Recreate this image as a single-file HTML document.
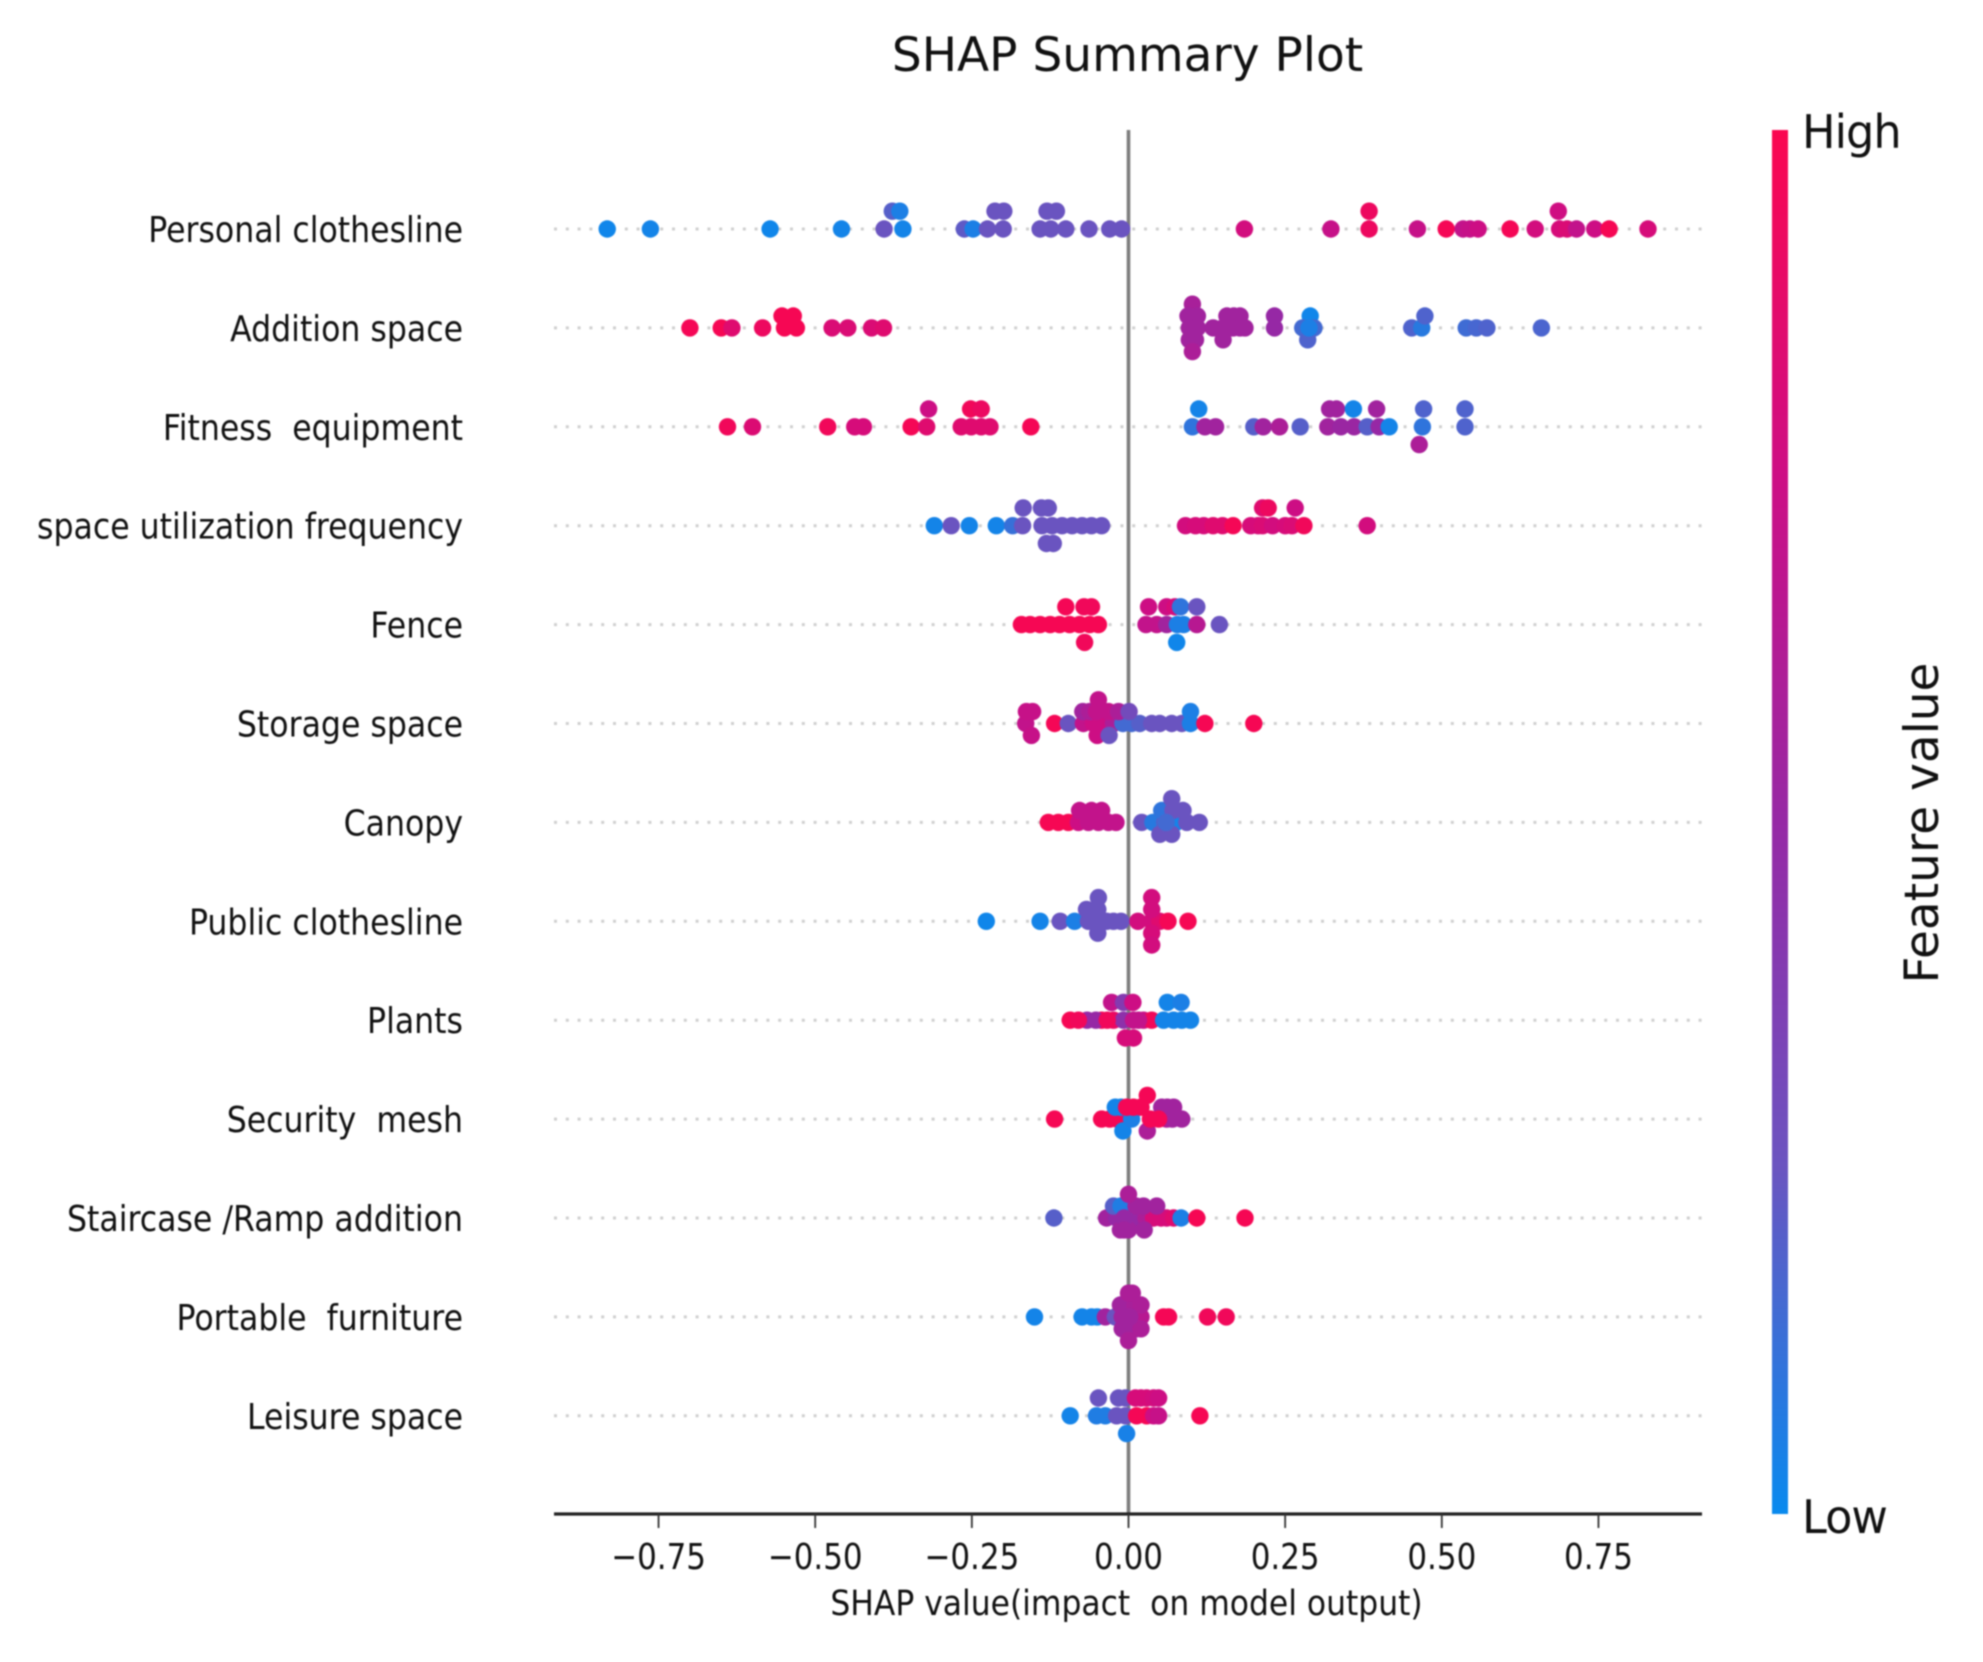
<!DOCTYPE html>
<html lang="en">
<head>
<meta charset="utf-8">
<title>SHAP Summary Plot</title>
<style>
html,body{margin:0;padding:0;background:#fff;}
svg{display:block;filter:blur(0.7px);}
text{font-family:"DejaVu Sans","Liberation Sans",sans-serif;fill:#111;white-space:pre;}
</style>
</head>
<body>
<svg id="chart" xmlns="http://www.w3.org/2000/svg" width="1983" height="1662" viewBox="0 0 1983 1662">
<defs>
<linearGradient id="cbar-gradient" x1="0" y1="1" x2="0" y2="0"></linearGradient>
</defs>
<rect x="0" y="0" width="1983" height="1662" fill="#ffffff"/>
<text x="1127.5" y="71" font-size="47" text-anchor="middle">SHAP Summary Plot</text>
<g id="grid-layer"></g>
<line x1="1128.5" x2="1128.5" y1="130" y2="1514" stroke="#7d7d7d" stroke-width="3.6"/>
<g id="dots-layer"></g>
<g id="labels-layer"></g>
<line x1="554" x2="1702" y1="1514" y2="1514" stroke="#222" stroke-width="3.2"/>
<g id="ticks-layer"></g>
<text transform="translate(1126.5,1615) scale(0.897,1)" font-size="35" text-anchor="middle">SHAP value(impact  on model output)</text>
<rect x="1772" y="130" width="16" height="1384" fill="url(#cbar-gradient)"/>
<text transform="translate(1802,148) scale(0.97,1)" font-size="46" style="letter-spacing:-1px">High</text>
<text transform="translate(1802,1533) scale(0.97,1)" font-size="46" style="letter-spacing:-1px">Low</text>
<text transform="translate(1938,823) rotate(-90)" font-size="47" text-anchor="middle">Feature value</text>
</svg>
<script>
// Each point: [SHAP value, swarm lane, normalised feature value]
const personalClothesline = [
[-0.832,0,.02],[-0.763,0,.03],[-0.572,0,.02],[-0.458,0,.03],[-0.39,0,.25],[-0.36,0,.03],[-0.262,0,.22],[-0.248,0,.05],[-0.225,0,.25],[-0.2,0,.25],[-0.141,0,.25],[-0.124,0,.25],[-0.1,0,.25],[-0.063,0,.25],[-0.03,0,.25],[-0.011,0,.25],
[-0.377,1,.2],[-0.365,1,.05],[-0.213,1,.25],[-0.199,1,.25],[-0.13,1,.25],[-0.115,1,.25],
[0.185,0,.78],[0.323,0,.72],[0.384,0,.93],[0.461,0,.72],[0.507,0,.97],[0.534,0,.7],[0.545,0,.72],[0.558,0,.75],[0.609,0,.97],[0.649,0,.78],[0.688,0,.8],[0.70,0,.82],[0.715,0,.7],[0.744,0,.75],[0.767,0,.98],[0.829,0,.8],
[0.384,1,.93],[0.686,1,.76]];
const additionSpace = [
[-0.70,0,.97],[-0.65,0,.98],[-0.633,0,.85],[-0.584,0,.93],[-0.553,1,.98],[-0.535,1,.98],[-0.549,0,.98],[-0.53,0,.98],[-0.473,0,.82],[-0.448,0,.82],[-0.41,0,.82],[-0.391,0,.85],
[0.102,2,.58],[0.095,1,.55],[0.11,1,.55],[0.097,0,.55],[0.11,0,.55],[0.097,-1,.55],[0.107,-1,.55],[0.102,-2,.6],[0.135,0,.55],[0.151,0,.55],[0.151,-1,.55],[0.157,1,.55],[0.168,1,.55],[0.178,1,.55],[0.167,0,.55],[0.178,0,.55],[0.186,0,.55],[0.233,1,.5],[0.233,0,.5],
[0.29,1,.02],[0.278,0,.15],[0.296,0,.15],[0.286,-1,.18],[0.288,0,.05],
[0.452,0,.18],[0.468,0,.08],[0.473,1,.18],[0.539,0,.14],[0.555,0,.16],[0.572,0,.18],[0.659,0,.17]];
const fitnessEquipment = [
[-0.64,0,.95],[-0.60,0,.83],[-0.48,0,.95],[-0.437,0,.8],[-0.423,0,.8],[-0.347,0,.97],[-0.322,0,.85],[-0.267,0,.85],[-0.251,0,.85],[-0.235,0,.85],[-0.221,0,.85],[-0.319,1,.75],[-0.252,1,.95],[-0.235,1,.92],[-0.156,0,.97],
[0.112,1,.03],[0.321,1,.55],[0.332,1,.55],[0.359,1,.03],[0.396,1,.55],[0.471,1,.18],[0.537,1,.18],
[0.102,0,.1],[0.122,0,.55],[0.139,0,.55],[0.2,0,.2],[0.215,0,.55],[0.241,0,.6],[0.274,0,.2],[0.318,0,.55],[0.339,0,.52],[0.36,0,.52],[0.381,0,.2],[0.40,0,.5],[0.416,0,.03],[0.469,0,.1],[0.537,0,.18],[0.464,-1,.6]];
const spaceUtilization = [
[-0.31,0,.03],[-0.283,0,.25],[-0.254,0,.03],[-0.211,0,.03],[-0.185,0,.12],[-0.169,0,.25],[-0.138,0,.25],[-0.122,0,.25],[-0.106,0,.25],[-0.09,0,.25],[-0.074,0,.25],[-0.059,0,.25],[-0.043,0,.25],
[-0.168,1,.25],[-0.139,1,.25],[-0.128,1,.25],[-0.131,-1,.25],[-0.12,-1,.25],
[0.091,0,.78],[0.107,0,.8],[0.12,0,.8],[0.135,0,.85],[0.15,0,.85],[0.167,0,.97],[0.195,0,.8],[0.207,0,.8],[0.214,0,.82],[0.23,0,.78],[0.25,0,.8],[0.261,0,.82],[0.28,0,.95],[0.381,0,.78],
[0.214,1,.85],[0.223,1,.93],[0.266,1,.75]];
const fence = [
[-0.10,1,.97],[-0.071,1,.95],[-0.059,1,.95],[0.032,1,.75],[0.061,1,.75],[0.074,1,.8],[0.083,1,.1],[0.109,1,.25],
[-0.171,0,.98],[-0.157,0,.98],[-0.141,0,.98],[-0.125,0,.98],[-0.11,0,.98],[-0.094,0,.98],[-0.078,0,.98],[-0.062,0,.98],[-0.048,0,.98],
[0.028,0,.7],[0.045,0,.7],[0.061,0,.55],[0.078,0,.05],[0.088,0,.05],[0.109,0,.65],[0.145,0,.25],[-0.07,-1,.95],[0.077,-1,.02]];
const storageSpace = [
[-0.164,0,.7],[-0.118,0,.97],[-0.096,0,.25],[-0.072,0,.7],[-0.056,0,.75],[-0.04,0,.75],[-0.024,0,.6],[-0.009,0,.15],[0.005,0,.15],[0.018,0,.2],[0.037,0,.25],[0.05,0,.25],[0.069,0,.25],[0.085,0,.25],[0.099,0,.05],[0.122,0,.98],[0.20,0,.98],
[-0.153,1,.72],[-0.163,1,.72],[-0.073,1,.55],[-0.062,1,.6],[-0.051,1,.7],[-0.032,1,.7],[-0.016,1,.6],[0.001,1,.3],[0.099,1,.05],
[-0.048,2,.7],[-0.155,-1,.72],[-0.05,-1,.75],[-0.031,-1,.25]];
const canopy = [
[-0.128,0,.98],[-0.112,0,.98],[-0.096,0,.98],[-0.08,0,.75],[-0.064,0,.7],[-0.048,0,.7],[-0.032,0,.7],[-0.02,0,.7],[0.021,0,.25],[0.039,0,.08],[0.058,0,.2],[0.076,0,.03],[0.093,0,.25],[0.113,0,.25],
[-0.078,1,.7],[-0.059,1,.7],[-0.043,1,.7],[0.053,1,.1],[0.071,1,.25],[0.087,1,.25],[0.069,2,.25],[0.05,-1,.25],[0.069,-1,.25],[0.06,0,.15]];
const publicClothesline = [
[-0.227,0,.02],[-0.141,0,.03],[-0.109,0,.25],[-0.086,0,.05],[-0.064,0,.25],[-0.048,0,.25],[-0.035,0,.25],[-0.024,0,.25],[-0.012,0,.25],[0.015,0,.78],[0.037,0,.78],[0.05,0,.85],[0.063,0,.97],[0.095,0,.98],
[-0.067,1,.25],[-0.049,1,.25],[0.037,1,.78],[-0.048,2,.25],[0.037,2,.78],[-0.049,-1,.25],[0.037,-1,.8],[0.037,-2,.78]];
const plants = [
[-0.093,0,.98],[-0.066,0,.5],[-0.08,0,.95],[-0.043,0,.95],[-0.024,0,.9],[-0.008,0,.45],[0.008,0,.7],[0.024,0,.75],[0.037,0,.95],[0.056,0,.03],[0.072,0,.03],[0.085,0,.03],[0.099,0,.03],[-0.052,0,.5],[-0.034,0,.95],[0.016,0,.7],
[-0.027,1,.7],[-0.008,1,.4],[0.007,1,.75],[0.062,1,.03],[0.084,1,.05],[-0.005,-1,.8],[0.008,-1,.8]];
const securityMesh = [
[-0.118,0,.98],[-0.043,0,.98],[-0.03,0,.98],[-0.018,0,.98],[-0.021,1,.03],[-0.012,1,.03],[-0.009,-1,.03],[0.03,-1,.6],[0.061,0,.6],[0.085,0,.55],[0.053,1,.55],[0.072,1,.55],[0.062,1,.55],[0.07,0,.55],
[0.005,0,.05],[0.035,0,.97],[0.048,0,.97],[-0.003,1,.97],[0.008,1,.97],[0.02,1,.97],[0.03,2,.97]];
const staircaseRamp = [
[-0.119,0,.2],[-0.035,0,.55],[-0.019,0,.5],[-0.003,0,.5],[0.013,0,.5],[0.028,0,.6],[0.04,0,.8],[0.052,0,.8],[0.061,0,.8],[0.072,0,.85],[0.084,0,.05],[0.109,0,.98],[0.186,0,.98],
[-0.024,1,.2],[-0.012,1,.06],[0,1,.06],[0.012,1,.55],[0.024,1,.55],[0.045,1,.55],[0,2,.6],[-0.013,-1,.55],[0,-1,.55],[0.025,-1,.55],[-0.007,0,.5],[-0.007,-1,.55]];
const portableFurniture = [
[-0.15,0,.03],[-0.074,0,.03],[-0.059,0,.03],[-0.05,0,.03],[-0.037,0,.55],[-0.021,0,.25],[-0.005,0,.55],[0.011,0,.6],[0.02,0,.65],[0.056,0,.97],[0.064,0,.97],[0.126,0,.95],[0.156,0,.95],
[-0.013,1,.55],[-0.002,1,.55],[0.01,1,.58],[0.02,1,.6],[0,2,.6],[0.006,2,.6],[-0.01,-1,.55],[0.002,-1,.55],[0.012,-1,.55],[0.02,-1,.6],[0,-2,.6],[-0.01,0,.55],[0.002,0,.55]];
const leisureSpace = [
[-0.093,0,.03],[-0.051,0,.06],[-0.037,0,.06],[-0.019,0,.25],[-0.005,0,.25],[0.013,0,.97],[0.029,0,.97],[0.04,0,.75],[0.048,0,.72],
[-0.048,1,.25],[-0.016,1,.25],[-0.005,1,.25],[0.011,1,.8],[0.02,1,.8],[0.029,1,.8],[0.04,1,.78],[0.048,1,.75],[-0.003,-1,.04],[0.114,0,.98]];

const featureNames = ["Personal clothesline","Addition space","Fitness  equipment","space utilization frequency","Fence","Storage space","Canopy","Public clothesline","Plants","Security  mesh","Staircase /Ramp addition","Portable  furniture","Leisure space"];
const featureSeries = [personalClothesline,additionSpace,fitnessEquipment,spaceUtilization,fence,storageSpace,canopy,publicClothesline,plants,securityMesh,staircaseRamp,portableFurniture,leisureSpace];
const tickValues = [-0.75,-0.5,-0.25,0,0.25,0.5,0.75];
const tickLabels = ["\u22120.75","\u22120.50","\u22120.25","0.00","0.25","0.50","0.75"];

const SVGNS = "http://www.w3.org/2000/svg";
function xScale(v){ return 1128.5 + v * 626.6; }
function rowY(i){ return 229 + i * 98.9; }
function laneGap(points){
  let m = 0;
  points.forEach(function(p){ m = Math.max(m, Math.abs(p[1])); });
  return 35.6 / (m + 1);
}
function featureColor(v){
  const s = [[0,[8,138,238]],[.25,[106,84,192]],[.5,[150,40,165]],[.75,[205,14,132]],[1,[250,6,80]]];
  for(let i = 1; i < s.length; i++){
    if(v <= s[i][0]){
      const t = (v - s[i-1][0]) / (s[i][0] - s[i-1][0]);
      const c = s[i-1][1].map(function(a,k){ return Math.round(a + (s[i][1][k] - a) * t); });
      return "rgb(" + c.join(",") + ")";
    }
  }
  return "rgb(250,6,80)";
}
const gridLayer = document.getElementById("grid-layer");
const dotsLayer = document.getElementById("dots-layer");
const labelsLayer = document.getElementById("labels-layer");
const ticksLayer = document.getElementById("ticks-layer");
const gradient = document.getElementById("cbar-gradient");

for(let g = 0; g <= 20; g++){
  const stop = document.createElementNS(SVGNS,"stop");
  stop.setAttribute("offset", g / 20);
  stop.setAttribute("stop-color", featureColor(g / 20));
  gradient.appendChild(stop);
}

featureNames.forEach(function(name, i){
  const y = rowY(i);
  const line = document.createElementNS(SVGNS,"line");
  
  
  line.setAttribute("x1", 554);
  line.setAttribute("x2", 1702);
  line.setAttribute("y1", y);
  line.setAttribute("y2", y);
  line.setAttribute("stroke", "#cfcfcf");
  line.setAttribute("stroke-width", 3);
  line.setAttribute("stroke-dasharray", "3 8.8");
  gridLayer.appendChild(line);

  const label = document.createElementNS(SVGNS,"text");
  
  
  label.setAttribute("transform", "translate(463," + (y + 13) + ") scale(0.877,1)");
  label.setAttribute("font-size", 36);
  label.setAttribute("text-anchor", "end");
  label.textContent = name;
  labelsLayer.appendChild(label);

  const points = featureSeries[i];
  const gap = laneGap(points);
  points.forEach(function(p){
    const dot = document.createElementNS(SVGNS,"circle");
    
    
    dot.setAttribute("cx", xScale(p[0]).toFixed(1));
    dot.setAttribute("cy", (y - p[1] * gap).toFixed(1));
    dot.setAttribute("r", 8.7);
    dot.setAttribute("fill", featureColor(p[2]));
    dotsLayer.appendChild(dot);
  });
});

tickValues.forEach(function(v, i){
  const x = xScale(v);
  const tick = document.createElementNS(SVGNS,"line");
  
  
  tick.setAttribute("x1", x);
  tick.setAttribute("x2", x);
  tick.setAttribute("y1", 1514);
  tick.setAttribute("y2", 1528);
  tick.setAttribute("stroke", "#333");
  tick.setAttribute("stroke-width", 1.8);
  ticksLayer.appendChild(tick);

  const text = document.createElementNS(SVGNS,"text");
  
  
  text.setAttribute("transform", "translate(" + x + ",1569) scale(0.86,1)");
  text.setAttribute("font-size", 36);
  text.setAttribute("text-anchor", "middle");
  text.textContent = tickLabels[i];
  ticksLayer.appendChild(text);
});
</script>
</body>
</html>
